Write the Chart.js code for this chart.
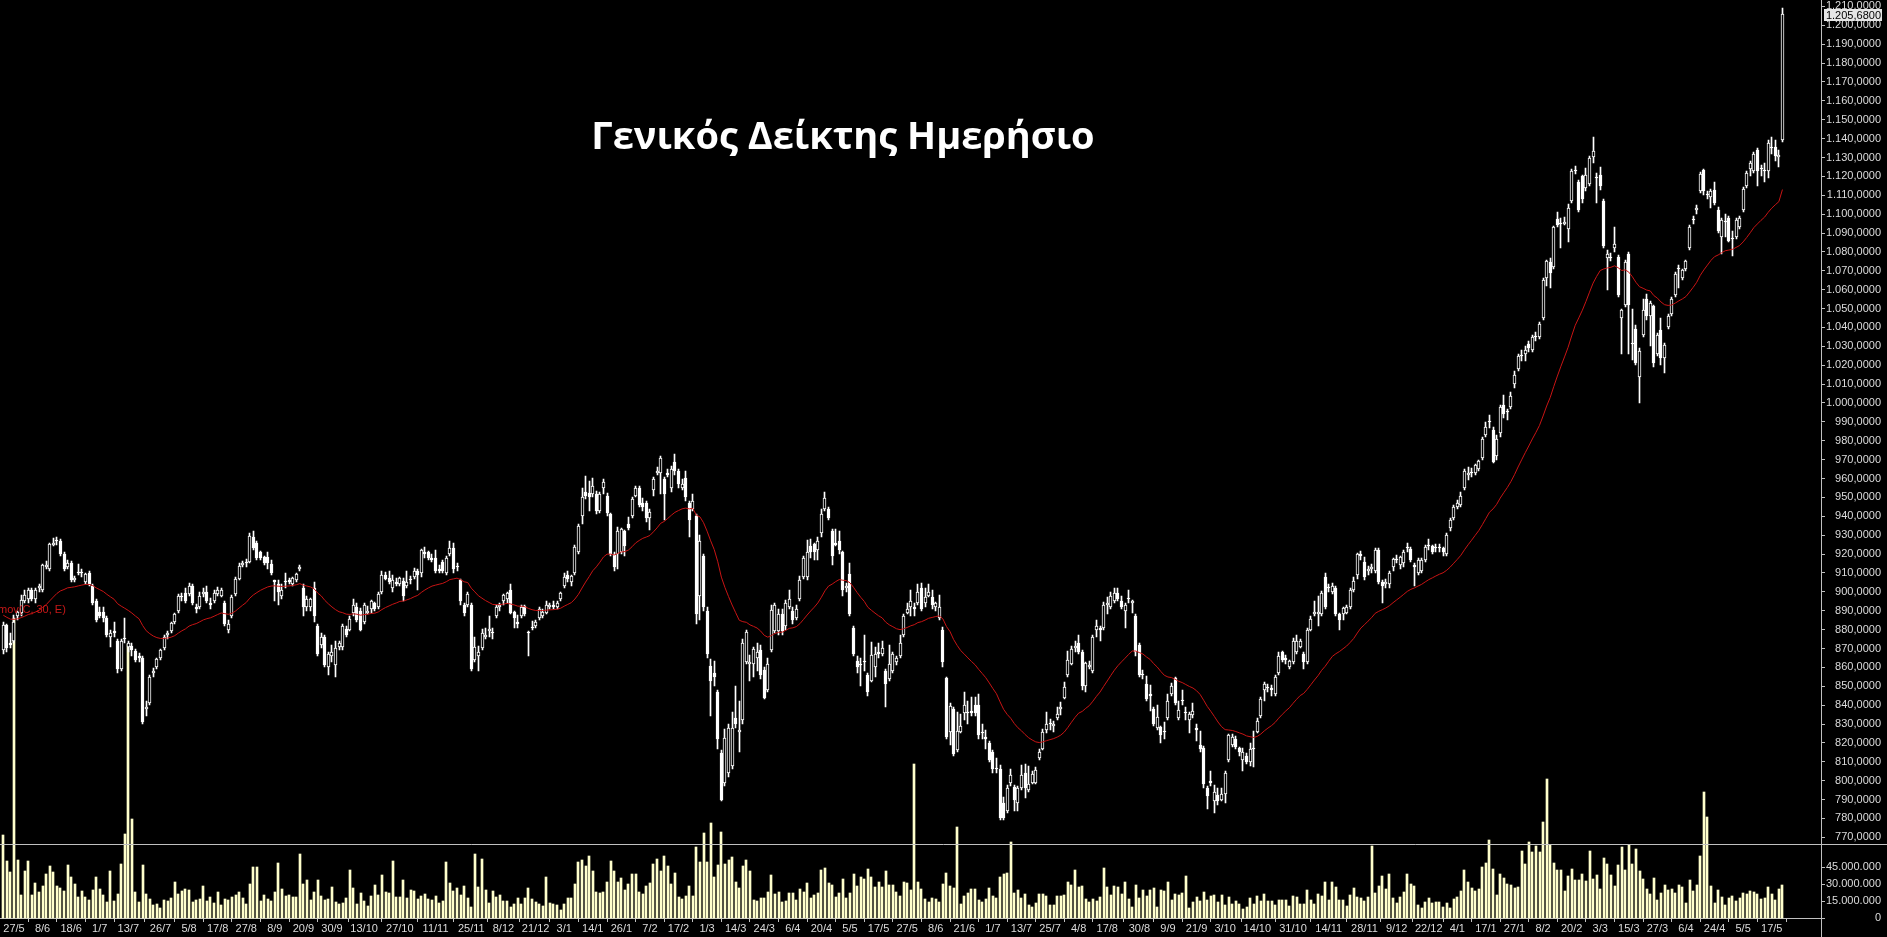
<!DOCTYPE html>
<html><head><meta charset="utf-8">
<script src="https://cdn.jsdelivr.net/npm/chart.js@4.4.1/dist/chart.umd.min.js"></script>
<style>
html,body{margin:0;padding:0;background:#000;overflow:hidden}
#wrap{position:relative;width:1887px;height:937px;background:#000}
canvas{display:block}
#title{position:absolute;left:0;width:1686px;top:112px;text-align:center;color:#fff;font:bold 38px "Open Sans",sans-serif;line-height:44px;white-space:nowrap}
#malabel{position:absolute;left:-2px;top:603px;color:#c81818;font:11px "Liberation Sans",sans-serif;line-height:12px;white-space:nowrap}
</style></head>
<body><div id="wrap"><canvas id="c" width="1887" height="937"></canvas>
<div id="title">Γενικός Δείκτης Ημερήσιο</div>
<div id="malabel">mov(C, 30, E)</div></div>
<script>
// ---------- calendar ----------
const firstDay = '2021-05-24';
const lastDay = '2023-05-22';
const closedDays = ['2021-06-21','2021-10-28','2021-12-24','2022-01-06','2022-03-07','2022-03-25','2022-04-15','2022-04-18','2022-04-22','2022-04-25','2022-05-02','2022-06-13','2022-08-15','2022-10-28','2022-12-26','2023-01-06','2023-02-27','2023-04-07','2023-04-10','2023-04-14','2023-04-17','2023-05-01'];
const tickDates = ['2021-05-27','2021-06-08','2021-06-18','2021-07-01','2021-07-13','2021-07-26','2021-08-05','2021-08-17','2021-08-27','2021-09-08','2021-09-20','2021-09-30','2021-10-13','2021-10-27','2021-11-11','2021-11-25','2021-12-08','2021-12-21',
'2022-01-03','2022-01-14','2022-01-26','2022-02-07','2022-02-17','2022-03-01','2022-03-14','2022-03-24','2022-04-06','2022-04-20','2022-05-05','2022-05-17','2022-05-27','2022-06-08','2022-06-21','2022-07-01','2022-07-13','2022-07-25','2022-08-04','2022-08-17','2022-08-30','2022-09-09','2022-09-21','2022-10-03','2022-10-14','2022-10-31','2022-11-14','2022-11-28','2022-12-09','2022-12-22',
'2023-01-04','2023-01-17','2023-01-27','2023-02-08','2023-02-20','2023-03-03','2023-03-15','2023-03-27','2023-04-06','2023-04-24','2023-05-05','2023-05-17'];

// ---------- prices ----------
const opens = [
869,882,873,874,887,889,895,896,901,896,
902,901,913,912,925,927,927,920,913,915,
906,910,910,905,910,903,895,889,889,886,
876,879,874,859,875,871,871,869,866,865,
838,841,857,860,865,870,877,879,884,890,
897,899,899,903,892,892,899,900,894,895,
899,898,894,880,887,899,907,914,915,916,
929,926,921,918,918,915,906,904,898,905,
906,904,906,912,902,892,892,902,882,872,
876,860,866,861,871,871,880,880,889,892,
890,884,889,891,894,892,900,909,907,902,
905,904,906,903,906,908,911,910,921,921,
918,918,912,916,910,
920,923,913,906,893,893,893,864,866,870,
876,879,878,887,892,895,896,901,889,884,
887,892,878,881,882,886,887,889,892,893,
892,896,903,909,905,910,921,940,953,952,
952,952,943,955,951,941,920,920,921,932,
936,940,951,955,947,947,939,954,963,963,
960,963,955,969,964,955,960,947,944,940,
898,919,890,861,857,847,815,799,804,808,
833,826,832,863,862,862,865,869,859,848,
869,879,879,888,882,892,890,886,896,908,
908,924,925,922,931,944,944,932,926,927,
921,902,909,881,863,861,863,856,853,860,
868,867,858,854,858,863,866,877,889,
892,892,894,902,894,898,897,892,886,880,
854,826,838,816,826,836,836,837,840,840,
825,823,820,815,806,806,788,784,799,797,
788,796,804,795,799,799,812,817,827,830,
829,833,838,844,856,862,870,873,868,850,
860,858,880,881,881,893,892,895,899,895,
890,896,894,887,872,856,851,846,838,828,
828,826,833,846,854,833,842,836,832,835,
828,819,817,796,800,789,792,790,793,811,
819,822,817,811,813,810,817,826,834,848,
849,849,846,857,868,865,860,863,868,871,
867,863,880,888,888,888,908,902,900,902,
888,888,889,892,901,
909,920,916,911,912,911,922,905,904,904,
913,917,914,915,923,923,914,910,911,917,
924,924,923,923,923,920,934,939,945,946,
955,962,963,963,965,971,983,990,986,972,
984,999,995,998,1010,1018,1025,1026,1031,1028,
1035,1035,1045,1066,1075,1072,1097,1095,1095,1092,
1107,1123,1117,1120,1114,1116,1130,1119,1121,1107,
1077,1077,1082,1077,1045,1052,1079,1031,1039,1014,
1036,1055,1046,1051,1026,1039,1024,1040,1047,1057,
1071,1066,1071,1082,1097,1102,1112,1123,1110,1109,
1113,1102,1088,1096,1098,1087,1088,1093,1102,1115,
1124,1123,1134,1124,1123,1123,1135,1136,1130,1139];

const highs = [
884,883,878,888,890,898,901,902,902,902,
904,915,916,926,928,929,928,921,917,916,
908,915,912,910,911,904,896,892,892,887,
880,884,875,875,886,874,873,870,868,866,
842,856,860,865,870,877,879,884,889,899,
899,902,905,904,894,900,902,903,897,901,
903,902,895,885,898,908,915,916,917,931,
932,927,922,919,921,917,906,906,904,910,
907,908,910,914,904,898,897,905,883,878,
877,868,872,874,874,883,882,887,896,894,
891,894,892,896,895,900,911,910,911,909,
907,908,907,911,908,913,912,923,924,922,
920,922,914,917,919,
927,926,915,907,894,900,894,876,871,880,
881,887,881,893,894,899,900,904,890,888,
893,893,879,885,885,892,891,895,894,895,
895,900,910,911,909,925,936,955,961,959,
960,953,953,960,952,942,921,934,934,933,
940,950,956,956,950,948,944,961,966,972,
961,965,967,973,965,960,964,948,952,941,
930,920,892,864,863,848,816,827,830,836,
850,842,875,880,867,871,873,872,860,865,
893,894,891,891,896,901,892,893,908,919,
927,928,926,929,944,953,945,933,933,932,
922,905,915,882,866,865,877,857,873,871,
873,874,859,872,868,866,877,888,894,
901,894,904,905,902,904,901,895,898,881,
855,841,839,836,835,847,842,844,844,846,
830,827,821,816,812,808,791,798,806,798,
797,808,809,808,805,807,817,827,836,833,
832,839,842,852,869,871,874,877,869,863,
863,877,885,882,895,897,900,902,902,898,
894,901,896,888,873,859,855,851,839,840,
829,831,846,852,855,842,848,839,836,841,
830,826,818,797,805,798,796,796,805,825,
825,824,818,817,815,820,826,833,844,852,
851,851,856,868,869,867,864,876,877,875,
868,881,887,895,898,900,910,904,905,903,
889,892,893,902,908,
921,922,918,914,915,923,923,906,907,911,
918,919,919,922,926,924,915,918,918,925,
928,925,925,925,924,931,939,946,949,953,
965,966,966,968,970,982,990,994,987,983,
999,1004,997,1006,1017,1026,1028,1030,1033,1036,
1038,1043,1066,1076,1077,1094,1101,1098,1098,1105,
1124,1125,1118,1121,1124,1131,1141,1122,1125,1108,
1081,1079,1093,1078,1050,1076,1080,1050,1041,1029,
1055,1058,1054,1052,1037,1045,1032,1047,1056,1069,
1073,1071,1076,1094,1099,1105,1122,1124,1112,1113,
1117,1104,1098,1100,1099,1091,1098,1099,1114,1123,
1128,1133,1135,1126,1127,1139,1141,1139,1134,1209];

const lows = [
867,868,870,873,885,887,894,894,895,894,
900,900,912,911,924,925,919,911,912,905,
905,909,908,904,903,893,884,886,884,876,
871,876,857,858,873,868,866,863,863,830,
834,840,855,859,864,869,875,878,883,889,
895,894,898,893,889,891,897,894,891,894,
898,897,882,878,886,898,906,913,913,915,
922,917,917,914,912,909,895,893,896,902,
904,903,905,911,887,890,890,884,866,870,
860,856,863,855,869,869,876,879,887,884,
879,883,888,889,890,891,899,906,904,900,
903,903,895,902,904,907,901,908,918,917,
916,910,910,910,909,
919,910,911,893,887,892,858,863,858,869,
875,876,875,886,890,893,894,888,881,881,
886,887,866,880,881,885,886,888,891,891,
891,895,902,905,903,909,920,936,949,943,
950,941,942,952,940,919,911,912,920,919,
933,939,950,945,943,937,933,951,962,952,
938,961,953,962,955,954,948,929,943,883,
885,890,865,834,850,817,789,797,802,806,
828,815,830,862,853,855,858,854,843,847,
868,878,877,877,880,891,883,885,895,907,
906,918,917,917,929,943,938,914,924,920,
898,900,887,866,857,850,858,845,852,855,
865,866,839,853,857,861,865,876,888,
887,887,893,890,892,897,891,890,885,860,
822,819,813,815,825,832,830,834,834,822,
822,817,810,804,804,779,779,783,797,784,
784,795,791,794,798,798,811,816,825,827,
826,832,835,843,855,861,868,867,848,847,
859,857,876,874,880,888,891,894,895,891,
881,894,889,866,855,854,842,837,829,827,
820,822,832,845,840,832,840,832,825,833,
821,815,796,785,797,783,787,789,788,810,
818,817,813,805,809,808,807,825,833,842,
847,845,845,856,863,862,859,862,867,870,
859,862,879,887,882,887,891,900,899,887,
880,885,888,891,900,
907,917,906,909,910,910,904,894,902,902,
911,915,912,913,921,916,903,909,910,916,
922,920,921,921,919,919,932,938,944,945,
954,959,961,962,964,970,982,987,968,970,
982,992,991,997,1008,1017,1022,1022,1027,1027,
1033,1034,1044,1062,1061,1071,1093,1082,1094,1085,
1106,1121,1101,1106,1112,1115,1127,1106,1113,1082,
1060,1075,1080,1056,1026,1051,1026,1023,1020,1000,
1035,1044,1030,1019,1025,1020,1016,1039,1046,1056,
1061,1065,1070,1081,1095,1100,1111,1110,1108,1103,
1105,1090,1079,1088,1085,1078,1087,1092,1101,1114,
1120,1122,1115,1120,1117,1119,1132,1128,1125,1138];

const closes = [
882,870,872,884,889,896,898,901,896,901,
903,914,914,925,926,927,920,912,915,906,
907,910,910,909,904,894,885,887,886,877,
878,878,859,874,875,873,869,864,865,831,
839,855,858,864,869,876,878,883,888,898,
897,895,903,894,891,898,900,895,893,899,
901,901,883,883,897,907,914,915,915,930,
923,918,918,915,915,910,905,900,901,905,
905,907,909,913,892,896,896,887,867,876,
861,867,868,870,873,882,877,886,893,885,
880,893,890,895,891,899,909,907,905,906,
904,907,898,905,906,911,909,922,920,918,
917,911,911,911,918,
923,912,913,895,889,899,859,871,868,878,
877,880,878,892,893,898,899,889,886,883,
892,888,878,881,884,891,889,893,893,892,
894,899,908,907,908,924,935,950,951,950,
956,943,952,958,942,920,913,932,933,924,
934,949,955,946,945,939,942,960,964,971,
952,962,965,964,957,957,950,938,948,888,
927,892,867,853,855,822,790,823,828,828,
830,827,873,879,863,870,868,856,844,862,
890,893,888,879,894,896,885,891,906,918,
921,921,921,927,941,950,939,919,925,922,
901,903,888,867,860,861,863,847,867,867,
867,870,851,862,867,865,873,887,891,
895,891,900,891,897,900,893,894,892,863,
823,840,814,826,829,840,836,836,836,824,
825,822,811,806,806,780,780,796,803,790,
796,803,796,798,804,806,815,826,830,830,
830,835,839,850,864,870,871,868,850,862,
861,876,882,880,893,894,898,899,896,892,
893,896,895,868,856,856,843,845,830,834,
824,826,842,850,841,837,842,836,835,837,
827,817,798,792,799,794,789,793,804,824,
823,818,815,815,810,817,817,832,843,851,
849,848,855,866,864,864,863,874,874,874,
863,880,886,889,889,899,892,902,903,888,
885,891,892,901,906,
920,919,908,912,913,922,905,903,905,910,
917,917,918,921,923,917,913,917,917,924,
924,921,923,923,921,930,938,945,947,951,
964,963,963,967,969,981,987,990,969,981,
998,994,995,1004,1015,1025,1025,1028,1029,1035,
1035,1042,1065,1075,1069,1093,1094,1095,1096,1103,
1123,1123,1102,1108,1121,1130,1133,1119,1115,1083,
1079,1077,1084,1057,1049,1075,1052,1031,1021,1028,
1049,1046,1053,1021,1036,1024,1031,1046,1055,1068,
1071,1070,1075,1093,1097,1103,1121,1112,1110,1112,
1106,1091,1097,1096,1086,1087,1097,1098,1113,1122,
1127,1132,1123,1124,1123,1138,1135,1131,1131,1205.68];

// ---------- volume, millions of shares ----------
const volumesM = [
73.5,51,41,266,52,21,42,51,21,31,
23,28.8,39.6,46,41,28.8,26.7,24.4,47,36.7,
30.8,19.1,24.4,19.1,16.5,25.3,36.7,26.2,21,15,
42,15.6,21.8,48,75,243,88,23.4,14.6,47,
21.8,17.4,12,12.9,9.4,16.4,15.6,18.1,32.3,21.8,
24.4,26.2,25.3,14.6,16.4,17.3,28.8,15.6,19,13.7,
23.4,12,17.4,16.4,19,21,23.4,18,12.9,30.5,
45.4,45.4,15.5,20.7,17.3,15.5,23.4,49,26.2,20,
20.7,19,19,56.9,30.5,34,16.4,23.4,34,20,
16.4,17.3,27.9,14.6,12.9,13.7,18,42.8,27,12.9,
22.6,15.5,11.1,20,29.7,20.7,38.4,23.4,22.6,50.7,
19,19,
34,18.1,25.3,24.4,17.3,20,21.8,17.3,16.4,20,
13.7,15.5,49.8,31.4,24.4,27,20.7,28.8,18.1,10.3,
56.9,27.9,52.5,25.3,13.7,24.4,19.1,20.8,15.5,15.5,
10.3,12.9,18.1,12.9,18.1,27,17.3,14.6,12.9,11.1,
36.5,13.7,12.9,12,7.6,12.9,18.1,18.1,30.5,49.8,
51.6,46.3,55,41.9,23.4,22.6,23.4,32.3,50.7,41.9,
32.3,35.8,25.3,30.5,39.3,39.3,23.4,21.7,28.8,31.4,
48,52.5,41.9,55.1,46.3,30.5,40.2,19.1,17.3,20,
28.8,20,63,49.8,75.3,49.8,84,36.7,47.2,76.2,
48,51.6,54.2,32.3,27,46.3,51.6,41.9,16.4,15.5,
18.1,18.1,23.4,38.4,21.7,23.4,14.6,15.5,22.5,22.5,
16.4,26.2,23.4,31.4,18.1,20.8,22.5,42.8,44.6,31.4,
29.7,19.1,22.5,34.9,18.1,22.5,39.3,28.8,36.7,34.9,
43.7,36.7,27.9,32.3,27.9,41.9,29.7,29.7,23.4,20,
32.3,31.4,25.3,137,32.3,26.2,17.3,14.6,18.1,17.3,
14.6,30.5,40.2,28.8,27,80.5,12.9,20,22.5,26.2,
26.2,16.4,14.6,17.3,27,20,18.1,36.7,39.3,40.2,
67.4,22.5,25.3,18.1,21.7,12,10.3,13.7,21.7,21.7,
20,12,12,20,20,20.8,32.3,29.7,42.8,27.9,
28.8,17.3,14.6,17.3,15.5,19.1,44.6,27.9,20.8,28.8,
27.9,21.7,32.3,17.3,10.3,29.7,18.1,25.3,20,25.3,
27,10.3,25.3,24.4,32.3,16.4,21.7,20.8,22.5,37.6,
9.4,14.6,19.1,15.5,23.4,16.4,20,20.8,14.6,20.8,
12,19.1,12.9,15.5,12.9,8.5,10.3,18.1,12.9,20,
15.5,21.7,15.5,15.5,12,16.4,16.4,16.4,11.1,20,
19.1,12.9,12.9,25.3,16.4,12.9,21.7,20,32.3,16.4,
32.3,27.9,16.4,16.4,11.1,20.8,27,19.1,18.1,15.5,
19.1,64.5,22.5,28.8,37.6,26.2,39.3,18.1,13.7,19.1,
23.4,39.3,30.5,28.8,12,9.4,14.6,18.1,13.7,14.6,
14.6,10.3,13.7,9.4,17.3,19.1,24.4,42.8,32.3,27,
24.4,26.2,45.4,49,69.1,43.7,20.8,39.3,35.8,30.5,
29.7,27,27.9,59.5,48,67.4,58.6,63.9,58.6,84.9,
123,64.7,49,42.8,42.8,24.4,37.6,43.7,34,34,
39.3,33.2,59.5,34.9,38.4,26.2,53.3,48,38.4,28.8,
47.2,63,42.8,64.7,48,61.2,41.9,34.9,26.2,21.7,
35.8,16.4,22.5,29.7,25.3,26.2,22.5,29.7,27.9,13.7,
34,24.4,29.7,55.1,112,90,28.8,13.7,25.3,19.1,
12,18.1,20,15.5,18.1,22.5,21.7,24.4,23.4,21.7,
17.3,18.1,27.9,21.7,16.4,26.2,29.7];

const maPeriod = 30;      // mov(C, 30, E)
const maSeed = 888;       // value of the average just before the first bar
const priceTicks = [];
for (let p = 770; p <= 1210; p += 10) priceTicks.push(p);
const volumeTicksM = [0, 15, 30, 45];

// ---------- helpers ----------
function tradingDays() {
  const out = [];
  let t = Date.parse(firstDay + 'T00:00:00Z');
  const end = Date.parse(lastDay + 'T00:00:00Z');
  while (t <= end) {
    const d = new Date(t), wd = d.getUTCDay(), s = d.toISOString().slice(0, 10);
    if (wd !== 0 && wd !== 6 && !closedDays.includes(s)) out.push(s);
    t += 86400000;
  }
  return out;
}
function fmtGr(v, dec) {
  const s = Math.abs(v).toFixed(dec);
  let [ip, dp] = s.split('.');
  ip = ip.replace(/\B(?=(\d{3})+(?!\d))/g, '.');
  return (v < 0 ? '-' : '') + (dp ? ip + ',' + dp : ip);
}
const dates = tradingDays();
const N = dates.length;
const tickIdx = tickDates.map(d => dates.indexOf(d)).filter(i => i >= 0);

const k = 2 / (maPeriod + 1);
let e = maSeed;
const maData = closes.map((c, j) => { e = e + k * (c - e); return {x: j, y: e}; });
const wickData = lows.map((l, j) => ({x: j, y: [l, highs[j]]}));
const bodyData = opens.map((o, j) => ({x: j, y: [o, closes[j]]}));
const bodyFill = opens.map((o, j) => closes[j] > o ? '#000000' : '#ffffff');
const volData = volumesM.map((v, j) => ({x: j, y: v}));

// crisp pixel alignment for bars
const BE = Chart.BarElement;
const origDraw = BE.prototype.draw;
BE.prototype.draw = function (ctx) {
  const sx = this.x, sy = this.y, sb = this.base, w = Math.round(this.width);
  const half = (w % 2) ? 0.5 : 0;
  this.x = Math.round(sx - half) + half;
  const b = Math.round(sb);
  let h = Math.round(sy - sb);
  if (h === 0) h = -1;
  this.base = b; this.y = b + h;
  origDraw.call(this, ctx);
  this.x = sx; this.y = sy; this.base = sb;
};

const AX = '#c0c0c0', TXT = '#dcdcdc';
const FONT = {family: 'Liberation Sans', size: 11};
const zeroPad = s => { s.paddingLeft = 0; s.paddingRight = 0; s.paddingTop = 0; s.paddingBottom = 0; };

const decor = {
  id: 'decor',
  afterDraw(chart) {
    const {ctx, chartArea} = chart;
    const y = chart.scales.y;
    ctx.save();
    ctx.strokeStyle = AX; ctx.lineWidth = 1;
    ctx.beginPath();
    ctx.moveTo(0, Math.round(y.bottom) + 0.5); ctx.lineTo(1887, Math.round(y.bottom) + 0.5);
    ctx.moveTo(Math.round(chartArea.right) + 0.5, chartArea.bottom); ctx.lineTo(Math.round(chartArea.right) + 0.5, 937);
    ctx.stroke();
    // last value box
    const last = closes[N - 1];
    const py = Math.round(y.getPixelForValue(last));
    ctx.fillStyle = '#e6e6e6';
    ctx.fillRect(chartArea.right + 3, py - 6, 58, 12);
    ctx.fillStyle = '#000';
    ctx.font = '11px "Liberation Sans"';
    ctx.textAlign = 'right'; ctx.textBaseline = 'middle';
    ctx.fillText(fmtGr(last, 4), chartArea.right + 60, py + 0.5);
    ctx.restore();
  }
};

new Chart(document.getElementById('c'), {
  data: {
    datasets: [
      {type: 'line', label: 'mov(C, 30, E)', data: maData, yAxisID: 'y', borderColor: '#c81414', borderWidth: 1, pointRadius: 0, tension: 0, order: 0},
      {type: 'bar', label: 'body', data: bodyData, yAxisID: 'y', grouped: false, barThickness: 3, minBarLength: 1,
        backgroundColor: bodyFill, borderColor: '#ffffff', borderWidth: 1, borderSkipped: false, order: 1},
      {type: 'bar', label: 'range', data: wickData, yAxisID: 'y', grouped: false, barThickness: 1, backgroundColor: '#ffffff', borderWidth: 0, order: 2},
      {type: 'bar', label: 'volume', data: volData, yAxisID: 'v', grouped: false, barThickness: 2, backgroundColor: '#ffffcc', borderWidth: 0, order: 3, clip: false}
    ]
  },
  options: {
    responsive: false, maintainAspectRatio: false, animation: false, devicePixelRatio: 1,
    layout: {padding: {left: 0, right: 6, top: 0, bottom: 0}, autoPadding: false},
    plugins: {legend: {display: false}, tooltip: {enabled: false}, title: {display: false}},
    scales: {
      x: {
        type: 'linear', position: 'bottom', min: -0.918, max: 508.79, offset: false,
        grid: {drawOnChartArea: false, drawTicks: true, tickLength: 4, color: AX},
        border: {display: true, color: AX},
        ticks: {autoSkip: false, maxRotation: 0, minRotation: 0, padding: 0, color: TXT, font: FONT,
          callback: v => { const d = dates[v]; return d ? (+d.slice(8, 10)) + '/' + (+d.slice(5, 7)) : ''; }},
        afterBuildTicks: s => { s.ticks = tickIdx.map(v => ({value: v})); },
        afterFit: s => { s.height = 19; zeroPad(s); }
      },
      y: {
        type: 'linear', position: 'right', stack: 'panes', stackWeight: 844.3, min: 766.2, max: 1213.4,
        grid: {drawOnChartArea: false, drawTicks: true, tickLength: 4, color: AX},
        border: {display: true, color: AX},
        ticks: {autoSkip: false, crossAlign: 'far', padding: 1, color: TXT, font: FONT, callback: v => fmtGr(v, 4)},
        afterBuildTicks: s => { s.ticks = priceTicks.map(v => ({value: v})); },
        afterFit: s => { s.width = 60; zeroPad(s); }
      },
      v: {
        type: 'linear', position: 'right', stack: 'panes', stackWeight: 73.5, min: 0, max: 65.0,
        grid: {drawOnChartArea: false, drawTicks: true, tickLength: 4, color: AX},
        border: {display: true, color: AX},
        ticks: {autoSkip: false, crossAlign: 'far', padding: 1, color: TXT, font: FONT, callback: v => fmtGr(v * 1e6, 0)},
        afterBuildTicks: s => { s.ticks = volumeTicksM.map(v => ({value: v})); },
        afterFit: s => { s.width = 60; zeroPad(s); }
      }
    }
  },
  plugins: [decor]
});
</script>
</body></html>
